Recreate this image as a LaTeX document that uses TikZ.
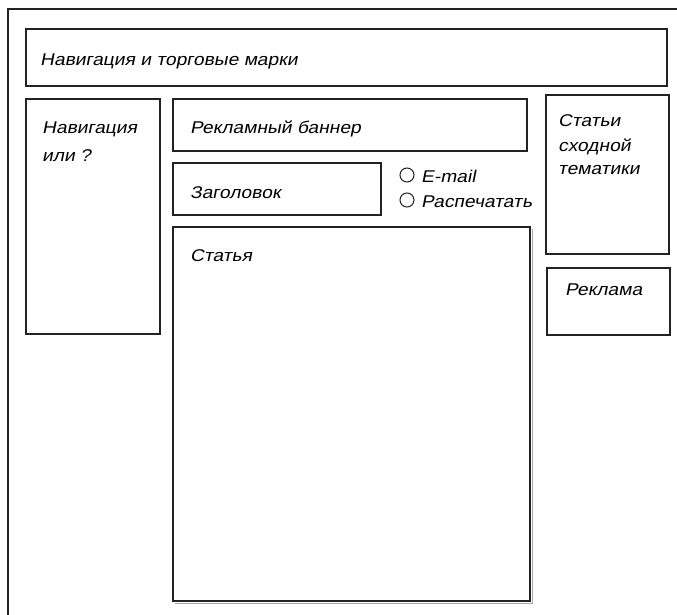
\documentclass[tikz,border=0pt]{standalone}
\usepackage{fontspec}
\newfontfamily\wirefont{Liberation Sans}[FakeSlant=0.2,FakeStretch=1.13]
\usepackage{tikz}
\definecolor{wireline}{HTML}{222222}

\begin{document}
\begin{tikzpicture}[x=1pt,y=-1pt,
  box/.style={draw=wireline,line width=1.3pt},
  lbl/.style={anchor=base west,inner sep=0pt,font=\wirefont\fontsize{17}{19}\selectfont}]
  \useasboundingbox (0,0) rectangle (677,615);
  \draw[wireline,line width=1.6pt] (8,9) rectangle (720,660);
  \draw[box] (26,29) rectangle (667,86);
  \draw[box] (26,99) rectangle (160,334);
  \draw[box] (173,99) rectangle (527,151);
  \draw[box] (173,163) rectangle (381,215);
  \draw[black!35,line width=1pt] (175,603) -- (532,603) -- (532,229);
  \draw[box] (173,227) rectangle (530,601);
  \draw[box] (546,95) rectangle (669,254);
  \draw[box] (547,268) rectangle (670,335);
  \node[lbl] (navtop) at (40,66) {Навигация и торговые марки};
  \node[lbl] (navleft) at (42,134) {Навигация};
  \node[lbl] (navq) at (42,161) {или ?};
  \node[lbl] (banner) at (190,134) {Рекламный баннер};
  \node[lbl] (title) at (190,198) {Заголовок};
  \node[lbl] (story) at (190,261) {Статья};
  \node[lbl] (rel1) at (558,127) {Статьи};
  \node[lbl] (rel2) at (558,151) {сходной};
  \node[lbl] (rel3) at (558,175) {тематики};
  \node[lbl] (ads) at (565,295) {Реклама};
  \draw[wireline,line width=1pt] (407,175) circle[radius=7];
  \draw[wireline,line width=1pt] (407,200) circle[radius=7];
  \node[lbl] (mail) at (421,182) {E-mail};
  \node[lbl] (print) at (421,207) {Распечатать};
\end{tikzpicture}
\end{document}
